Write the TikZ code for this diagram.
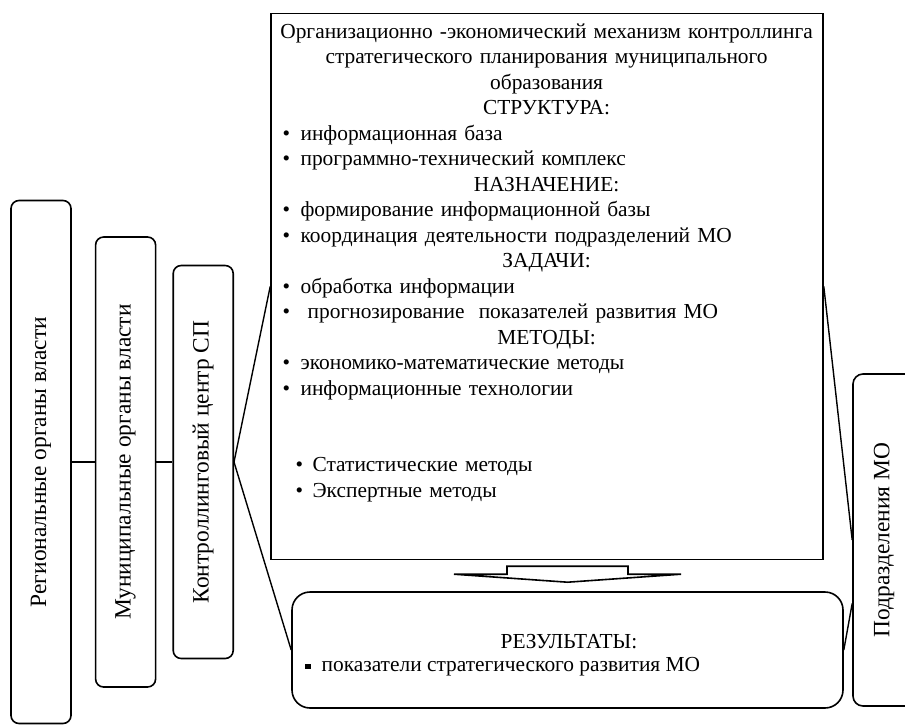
\documentclass[tikz,border=0pt]{standalone}
\usepackage{fontspec}
\setmainfont{Liberation Serif}
\usetikzlibrary{positioning,calc}

\newcommand{\mechhead}[1]{\makebox[\linewidth][c]{#1}}
\newcommand{\mechitem}[1]{\hspace*{6pt}\makebox[9pt][l]{\textbullet}#1}
\newcommand{\methitem}[1]{\hspace*{12.5pt}\makebox[8.5pt][l]{\textbullet}#1}

\tikzset{
  orgbox/.style={draw, line width=0.8pt, rounded corners=4pt, minimum width=30pt, inner sep=0pt},
  vlabel/.style={rotate=90, inner sep=0pt, font=\fontsize{11.7}{13}\selectfont},
  link/.style={line width=0.7pt},
}

\begin{document}
\begin{tikzpicture}[x=0.5pt, y=-0.5pt, font=\fontsize{10.7}{12.75}\selectfont]
    \useasboundingbox (0,0) rectangle (905,724);
    % authorities and controlling centre
    \node[orgbox, minimum height=261.5pt] (reg) at (41,462) {};
    \node[orgbox, minimum height=225pt, right=11.5pt of reg] (mun) {};
    \node[orgbox, minimum height=196.5pt, right=8pt of mun] (ctr) {};
    \node[vlabel] (reglbl) at (reg) {Региональные органы власти};
    \node[vlabel] (munlbl) at (mun) {Муниципальные органы власти};
    \node[vlabel] (ctrlbl) at (ctr) {Контроллинговый центр СП};

    % mechanism
    \node[draw, line width=0.8pt, minimum width=276pt, minimum height=273pt, inner sep=0pt] (mech) at (547,286.5) {};
    \node[anchor=north west, text width=276pt, inner sep=0pt, align=left] (mechtxt) at ($(mech.north west)+(0,-5.3pt)$) {%
      \mechhead{Организационно -экономический механизм контроллинга}\\
      \mechhead{стратегического планирования муниципального}\\
      \mechhead{образования}\\
      \mechhead{СТРУКТУРА:}\\
      \mechitem{информационная база}\\
      \mechitem{программно-технический комплекс}\\
      \mechhead{НАЗНАЧЕНИЕ:}\\
      \mechitem{формирование информационной базы}\\
      \mechitem{координация деятельности подразделений МО}\\
      \mechhead{ЗАДАЧИ:}\\
      \mechitem{обработка информации}\\
      \mechitem{\ прогнозирование\ \ показателей развития МО}\\
      \mechhead{МЕТОДЫ:}\\
      \mechitem{экономико-математические методы}\\
      \mechitem{информационные технологии}\\[25.5pt]
      \methitem{Статистические методы}\\
      \methitem{Экспертные методы}};

    % results
    \node[draw, line width=0.8pt, rounded corners=9pt, minimum width=275.5pt, minimum height=58pt, inner sep=0pt] (res) at (567.5,650) {};
    \node[inner sep=0pt] (restitle) at (569,642) {РЕЗУЛЬТАТЫ:};
    \node[anchor=west, inner sep=0pt] (resitem) at (305,667) {\rule[0.3ex]{2.6pt}{2.6pt}\hspace{5.5pt}показатели стратегического развития МО};

    % subdivisions
    \node[orgbox, rounded corners=5pt, minimum width=31pt, minimum height=166pt] (sub) at (884,540) {};
    \node[vlabel] (sublbl) at (sub) {Подразделения МО};

    % arrow
    \draw[line width=0.8pt, line join=miter, shift={(res.north)}] (-113.5,-17) -- (-60.5,-17) -- (-60.5,-25) -- (60.5,-25) -- (60.5,-17) -- (113.5,-17) -- (0,-9) -- cycle;

    % connectors
    \draw[link] (reg.east) -- (mun.west);
    \draw[link] (mun.east) -- (ctr.west);
    \draw[link] (ctr.east) -- (mech.west);
    \draw[link] (ctr.east) -- (res.west);
    \draw[link] (mech.east) -- (sub.west);
    \draw[link] (res.east) -- ($(sub.south west)!0.31!(sub.north west)$);
\end{tikzpicture}
\end{document}
